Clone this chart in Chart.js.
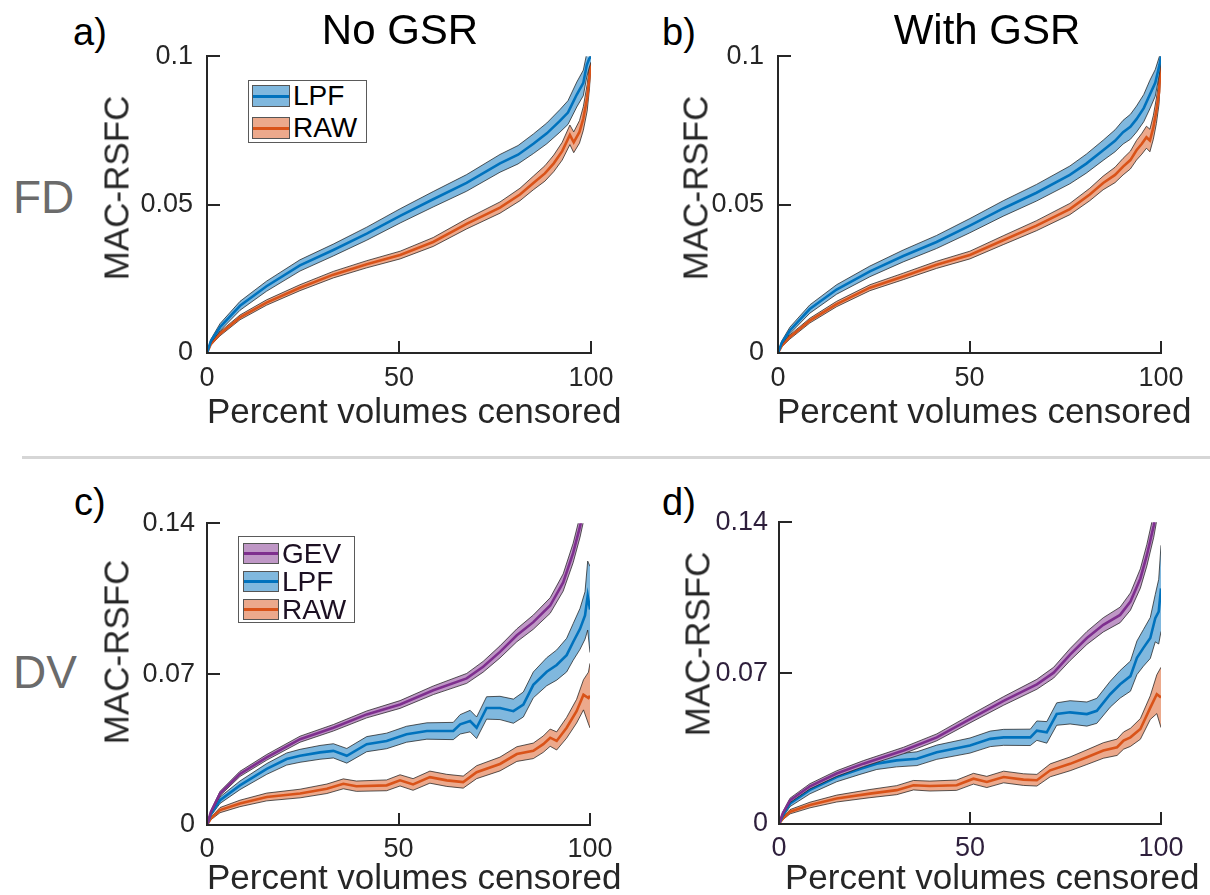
<!DOCTYPE html>
<html>
<head>
<meta charset="utf-8">
<script src="https://cdn.jsdelivr.net/npm/chart.js@4.4.1/dist/chart.umd.min.js"></script>
<style>
  html, body { margin: 0; padding: 0; background: #fff; }
  body { width: 1210px; height: 895px; position: relative; overflow: hidden; font-family: "Liberation Sans", Arial, sans-serif; }
  .txt { position: absolute; white-space: nowrap; line-height: 1; }
  .holder { position: absolute; }
  .legend { position: absolute; border: 1px solid #5a5a5a; background: #fff; box-sizing: border-box; }
  .legend .row { position: absolute; }
  .legend .sw { position: absolute; box-sizing: border-box; border: 1px solid #555; }
  .legend .sw i { position: absolute; left: 0; right: 0; top: 50%; height: 3px; margin-top: -1.5px; }
  .legend .lab { position: absolute; font-size: 28px; line-height: 1; white-space: nowrap; }
  .sep { position: absolute; left: 22px; top: 456px; width: 1188px; height: 3px; background: #d6d6d6; }
</style>
</head>
<body>
<div class="sep"></div>
<script>
// ---- axis ticks ----
const xTicks = [0, 50, 100];
const xTickLabels = ['0', '50', '100'];
const yTicksFD = [0, 0.05, 0.1];
const yTickLabelsFD = ['0', '0.05', '0.1'];
const yTicksDV = [0, 0.07, 0.14];
const yTickLabelsDV = ['0', '0.07', '0.14'];

// ---- series colours ----
const seriesNames = { GEV: 'GEV', LPF: 'LPF', RAW: 'RAW' };
const lineColor = { GEV: '#7E2F8E', LPF: '#0072BD', RAW: '#D95319' };
const bandColor = { GEV: 'rgb(191,151,198)', LPF: 'rgb(128,184,222)', RAW: 'rgb(236,169,140)' };

// ---- a) FD, no GSR ----
const aLpfPct  = [0, 1, 3.4, 8.6, 15.5, 24.2, 32.9, 41.6, 50.3, 58.9, 67.6, 76.3, 81, 85, 88.5, 91.9, 94, 96.3, 98, 98.9, 99.5, 100];
const aLpfMean = [0, 0.004, 0.0087, 0.0159, 0.0225, 0.0295, 0.0347, 0.0402, 0.0462, 0.0518, 0.0573, 0.0639, 0.0668, 0.0705, 0.074, 0.0782, 0.081, 0.0871, 0.091, 0.097, 0.099, 0.1];
const aLpfHalf = [0, 0.0006, 0.0012, 0.0015, 0.0017, 0.0019, 0.002, 0.0022, 0.0024, 0.0026, 0.0028, 0.003, 0.0031, 0.0033, 0.0035, 0.0038, 0.004, 0.0042, 0.0043, 0.004, 0.003, 0.002];
const aRawPct  = [0, 1, 3.4, 8.6, 15.5, 24.2, 32.9, 41.6, 50.3, 58.9, 67.6, 76.3, 81.5, 85, 88, 90.3, 92.5, 94.5, 95.5, 97, 98, 99, 99.6, 100];
const aRawMean = [0, 0.003, 0.0065, 0.012, 0.017, 0.022, 0.0264, 0.0299, 0.033, 0.0374, 0.0435, 0.049, 0.0534, 0.0573, 0.0605, 0.0639, 0.068, 0.0735, 0.071, 0.0745, 0.079, 0.086, 0.093, 0.1];
const aRawHalf = [0, 0.0004, 0.0007, 0.0008, 0.0009, 0.001, 0.0011, 0.0012, 0.0013, 0.0015, 0.0017, 0.0019, 0.0021, 0.0023, 0.0026, 0.0028, 0.003, 0.0033, 0.0035, 0.0038, 0.004, 0.0045, 0.004, 0.003];

// ---- b) FD, with GSR ----
const bLpfPct  = [0, 1, 3.1, 8.3, 15.3, 24, 32.7, 41.4, 50.1, 58.8, 67.5, 76.2, 80.5, 84.9, 88, 90.1, 92, 93.6, 95.5, 97.1, 98.5, 99.6, 100];
const bLpfMean = [0, 0.0035, 0.0076, 0.0148, 0.0214, 0.0275, 0.0327, 0.0374, 0.0429, 0.0487, 0.054, 0.06, 0.0638, 0.0683, 0.0715, 0.0744, 0.0762, 0.0788, 0.0825, 0.0871, 0.091, 0.097, 0.1];
const bLpfHalf = [0, 0.0006, 0.0011, 0.0014, 0.0016, 0.0018, 0.002, 0.0022, 0.0024, 0.0026, 0.0028, 0.003, 0.0032, 0.0034, 0.0037, 0.004, 0.0042, 0.0044, 0.0046, 0.0048, 0.0045, 0.003, 0.002];
const bRawPct  = [0, 1, 3.1, 8.3, 15.3, 24, 32.7, 41.4, 50.1, 58.8, 67.5, 76.2, 81.4, 84.9, 88, 90.1, 92, 93.6, 95, 96.2, 97.1, 98, 98.8, 99.5, 100];
const bRawMean = [0, 0.0025, 0.0054, 0.0109, 0.0165, 0.022, 0.0258, 0.0297, 0.033, 0.038, 0.0429, 0.0485, 0.0534, 0.0573, 0.06, 0.0628, 0.065, 0.0683, 0.0705, 0.0727, 0.0716, 0.076, 0.0816, 0.088, 0.1];
const bRawHalf = [0, 0.0004, 0.0007, 0.0008, 0.0009, 0.001, 0.0011, 0.0012, 0.0013, 0.0015, 0.0017, 0.0019, 0.0021, 0.0023, 0.0026, 0.0028, 0.003, 0.0033, 0.0035, 0.0037, 0.0038, 0.004, 0.0043, 0.004, 0.003];

// ---- c) DV, no GSR ----
const cGevPct  = [0, 1, 3.4, 8.6, 15.6, 24.3, 33, 41.7, 50.4, 59.1, 67.8, 72.1, 76.5, 80.9, 85.2, 89.6, 93, 95.6, 97.4, 98.5, 99.5];
const cGevMean = [0, 0.006, 0.0146, 0.0237, 0.0314, 0.0398, 0.0451, 0.0513, 0.0559, 0.0625, 0.068, 0.0734, 0.0803, 0.088, 0.0941, 0.1018, 0.1125, 0.1262, 0.1385, 0.148, 0.16];
const cGevHalf = [0, 0.0006, 0.001, 0.0012, 0.0013, 0.0014, 0.0015, 0.0016, 0.0018, 0.002, 0.0023, 0.0025, 0.0028, 0.003, 0.0033, 0.0036, 0.004, 0.0045, 0.005, 0.0055, 0.006];
const cLpfPct  = [0, 1, 3.4, 8.6, 15.6, 20.8, 24.3, 29.5, 33, 36.5, 41.7, 46.9, 52.1, 57.4, 64.3, 66.1, 68.7, 70.4, 73, 76.5, 80, 82.6, 85.2, 88.7, 91.3, 93.9, 95.6, 97.4, 98.7, 99.4, 100];
const cLpfMean = [0, 0.005, 0.0115, 0.0184, 0.026, 0.0306, 0.0321, 0.0337, 0.0344, 0.0321, 0.0375, 0.039, 0.0421, 0.0436, 0.0436, 0.0467, 0.0482, 0.0451, 0.0543, 0.0543, 0.0528, 0.0559, 0.065, 0.0711, 0.0742, 0.0788, 0.0849, 0.091, 0.0972, 0.1064, 0.1];
const cLpfHalf = [0, 0.0008, 0.0015, 0.002, 0.0025, 0.0028, 0.003, 0.0032, 0.0033, 0.0034, 0.0035, 0.0036, 0.0037, 0.0038, 0.004, 0.0045, 0.005, 0.005, 0.0052, 0.0054, 0.0056, 0.0058, 0.006, 0.0065, 0.007, 0.0078, 0.0085, 0.0095, 0.011, 0.016, 0.02];
const cRawPct  = [0, 1, 3.4, 8.6, 15.6, 24.3, 31.3, 35.6, 39, 46.9, 50.4, 53.8, 58.2, 62.6, 66.9, 70.4, 76.5, 80.9, 85.2, 87.8, 89.6, 91.3, 93.9, 96.5, 98.3, 99.6, 100];
const cRawMean = [0, 0.003, 0.0069, 0.01, 0.013, 0.0146, 0.0168, 0.0191, 0.018, 0.0184, 0.0207, 0.0188, 0.0222, 0.0207, 0.0199, 0.0245, 0.0283, 0.0329, 0.0344, 0.0375, 0.0405, 0.039, 0.0451, 0.0528, 0.0604, 0.0589, 0.06];
const cRawHalf = [0, 0.0006, 0.0012, 0.0015, 0.0018, 0.002, 0.0022, 0.0023, 0.0024, 0.0025, 0.0026, 0.0027, 0.0028, 0.0028, 0.0028, 0.003, 0.0032, 0.0034, 0.0036, 0.0038, 0.004, 0.0042, 0.0048, 0.0055, 0.007, 0.012, 0.015];

// ---- d) DV, with GSR ----
const dGevPct  = [0, 1, 2.9, 8.1, 15.1, 22.1, 32.6, 41.3, 50, 58.8, 67.5, 71.9, 76.2, 80.6, 84.9, 89.3, 92, 94.6, 96.3, 98.1, 99, 100];
const dGevMean = [0, 0.005, 0.011, 0.0175, 0.0234, 0.028, 0.0341, 0.0402, 0.0487, 0.0571, 0.0648, 0.0702, 0.0786, 0.0863, 0.0924, 0.097, 0.1032, 0.1139, 0.1247, 0.1385, 0.148, 0.16];
const dGevHalf = [0, 0.0006, 0.001, 0.0012, 0.0013, 0.0014, 0.0015, 0.0016, 0.0018, 0.002, 0.0023, 0.0025, 0.0028, 0.003, 0.0033, 0.0036, 0.004, 0.0045, 0.005, 0.0055, 0.006, 0.006];
const dLpfPct  = [0, 1, 2.9, 8.1, 15.1, 21.2, 25.6, 30.8, 36.1, 41.3, 50, 55.3, 58.8, 65.8, 67.5, 70.1, 72.7, 76.2, 80.6, 83.2, 86.7, 89.3, 92, 93.7, 95.4, 97.2, 98.5, 99.4, 100];
const dLpfMean = [0, 0.004, 0.0095, 0.0158, 0.0218, 0.0255, 0.028, 0.0295, 0.0303, 0.0333, 0.0364, 0.0395, 0.0402, 0.0402, 0.0433, 0.0425, 0.051, 0.0518, 0.051, 0.0525, 0.0602, 0.0648, 0.0686, 0.0771, 0.0817, 0.0863, 0.0955, 0.0985, 0.1093];
const dLpfHalf = [0, 0.0008, 0.0014, 0.0018, 0.0022, 0.0025, 0.0027, 0.003, 0.0032, 0.0033, 0.0035, 0.0036, 0.0037, 0.0038, 0.0045, 0.005, 0.0052, 0.0054, 0.0056, 0.0058, 0.006, 0.0064, 0.007, 0.0078, 0.0085, 0.0095, 0.011, 0.015, 0.02];
const dRawPct  = [0, 1, 2.9, 8.1, 15.1, 23.8, 30.8, 35.2, 39.5, 46.5, 50.9, 54.4, 58.8, 64, 67.5, 71, 76.2, 80.6, 84.9, 88.5, 90.2, 92, 94.6, 97.2, 98.9, 100];
const dRawMean = [0, 0.0025, 0.0057, 0.0088, 0.0118, 0.0141, 0.0157, 0.018, 0.0176, 0.018, 0.021, 0.0195, 0.0218, 0.0206, 0.0203, 0.0249, 0.0279, 0.031, 0.0341, 0.0356, 0.0387, 0.0402, 0.0441, 0.054, 0.0602, 0.0587];
const dRawHalf = [0, 0.0005, 0.001, 0.0013, 0.0016, 0.0019, 0.0021, 0.0022, 0.0023, 0.0024, 0.0025, 0.0026, 0.0027, 0.0027, 0.0027, 0.003, 0.0032, 0.0034, 0.0036, 0.0038, 0.004, 0.0042, 0.0048, 0.0055, 0.009, 0.014];

// ---------------------------------------------------------------
const FONT = '"Liberation Sans", Arial, sans-serif';

function addText(str, opts) {
  const el = document.createElement('div');
  el.className = 'txt';
  el.textContent = str;
  el.style.fontSize = opts.size + 'px';
  el.style.color = opts.color || '#000';
  // place by baseline: line-height 1 puts baseline ~0.8465em below the box top
  const top = opts.baseline - 0.8465 * opts.size;
  el.style.top = top + 'px';
  if (opts.center !== undefined) {
    el.style.left = opts.center + 'px';
    el.style.transform = 'translateX(-50%)';
  } else {
    el.style.left = opts.left + 'px';
  }
  document.body.appendChild(el);
  return el;
}

function addVText(str, opts) {
  // rotated axis title; cx/cy is the centre of the text box
  const el = document.createElement('div');
  el.className = 'txt';
  el.textContent = str;
  el.style.fontSize = opts.size + 'px';
  el.style.color = opts.color || '#262626';
  el.style.left = opts.cx + 'px';
  el.style.top = opts.cy + 'px';
  el.style.transform = 'translate(-50%, -50%) rotate(-90deg)';
  document.body.appendChild(el);
}

function addLegend(box, names) {
  const lg = document.createElement('div');
  lg.className = 'legend';
  lg.style.left = box.left + 'px';
  lg.style.top = box.top + 'px';
  lg.style.width = box.width + 'px';
  lg.style.height = box.height + 'px';
  names.forEach((key, i) => {
    const sw = document.createElement('div');
    sw.className = 'sw';
    sw.style.left = box.swLeft + 'px';
    sw.style.top = (box.firstTop + i * box.step) + 'px';
    sw.style.width = box.swW + 'px';
    sw.style.height = box.swH + 'px';
    sw.style.background = bandColor[key];
    const ln = document.createElement('i');
    ln.style.background = lineColor[key];
    sw.appendChild(ln);
    lg.appendChild(sw);
    const lab = document.createElement('div');
    lab.className = 'lab';
    lab.textContent = seriesNames[key];
    lab.style.color = box.textColor;
    lab.style.left = box.textLeft + 'px';
    lab.style.top = (box.firstTop + i * box.step + box.swH / 2 - 14) + 'px';
    lg.appendChild(lab);
  });
  document.body.appendChild(lg);
}

function bandSets(key, pct, mean, half, order) {
  const upper = pct.map((x, i) => ({ x, y: mean[i] + half[i] }));
  const lower = pct.map((x, i) => ({ x, y: mean[i] - half[i] }));
  const mid = pct.map((x, i) => ({ x, y: mean[i] }));
  const edge = 'rgba(25,25,25,0.8)';
  return [
    { label: key + ' upper', data: upper, borderColor: edge, borderWidth: 0.9, backgroundColor: bandColor[key], fill: '+1', pointRadius: 0, tension: 0, order: order + 2 },
    { label: key + ' lower', data: lower, borderColor: edge, borderWidth: 0.9, fill: false, pointRadius: 0, tension: 0, order: order + 1 },
    { label: key, data: mid, borderColor: lineColor[key], borderWidth: 2.6, fill: false, pointRadius: 0, tension: 0, order: order }
  ];
}

// inward tick marks, MATLAB style
const inwardTicks = {
  id: 'inwardTicks',
  afterDatasetsDraw(chart, args, opts) {
    const { ctx, chartArea: ca } = chart;
    const xs = chart.scales.x, ys = chart.scales.y;
    ctx.save();
    ctx.strokeStyle = opts.color;
    ctx.lineWidth = 2;
    ctx.beginPath();
    xs.ticks.forEach(t => {
      const px = Math.round(xs.getPixelForValue(t.value));
      ctx.moveTo(px, ca.bottom);
      ctx.lineTo(px, ca.bottom - 12);
    });
    ys.ticks.forEach(t => {
      const py = Math.round(ys.getPixelForValue(t.value));
      ctx.moveTo(ca.left, py);
      ctx.lineTo(ca.left + 13, py);
    });
    ctx.stroke();
    ctx.restore();
  }
};

function makePanel(p) {
  const padL = 75, padT = 25, padR = 40, padB = 50;
  const holder = document.createElement('div');
  holder.className = 'holder';
  const w = p.R - p.L + padL + padR;
  const h = p.B - p.T + padT + padB;
  holder.style.left = (p.L - padL) + 'px';
  holder.style.top = (p.T - padT) + 'px';
  holder.style.width = w + 'px';
  holder.style.height = h + 'px';
  const cv = document.createElement('canvas');
  holder.appendChild(cv);
  document.body.appendChild(holder);

  new Chart(cv, {
    type: 'line',
    data: { datasets: p.datasets },
    options: {
      responsive: true,
      maintainAspectRatio: false,
      animation: false,
      events: [],
      layout: { padding: { left: 0, top: padT, right: padR, bottom: 0 } },
      plugins: { legend: { display: false }, tooltip: { enabled: false }, inwardTicks: { color: '#262626' } },
      scales: {
        x: {
          type: 'linear', min: 0, max: 100,
          afterBuildTicks: s => { s.ticks = xTicks.map(v => ({ value: v })); },
          afterFit: s => { s.height = padB; },
          grid: { display: false, drawTicks: false },
          border: { display: true, width: 2, color: '#262626' },
          ticks: { padding: p.xPad, color: p.tickColor, font: { family: FONT, size: 27 }, maxRotation: 0,
                   callback: (v, i) => xTickLabels[i] }
        },
        y: {
          type: 'linear', min: 0, max: p.yTicks[p.yTicks.length - 1],
          afterBuildTicks: s => { s.ticks = p.yTicks.map(v => ({ value: v })); },
          afterFit: s => { s.width = padL; },
          grid: { display: false, drawTicks: false },
          border: { display: true, width: 2, color: '#262626' },
          ticks: { padding: p.yPad, color: p.tickColor, font: { family: FONT, size: 27 },
                   callback: (v, i) => p.yTickLabels[i] }
        }
      }
    },
    plugins: [inwardTicks]
  });
}

// ---- panels ----
makePanel({ L: 207, T: 51, R: 591, B: 353, yTicks: yTicksFD, yTickLabels: yTickLabelsFD, tickColor: '#262626', xPad: 9, yPad: 14,
  datasets: [...bandSets('LPF', aLpfPct, aLpfMean, aLpfHalf, 10), ...bandSets('RAW', aRawPct, aRawMean, aRawHalf, 20)] });
makePanel({ L: 778, T: 51, R: 1161, B: 353, yTicks: yTicksFD, yTickLabels: yTickLabelsFD, tickColor: '#262626', xPad: 9, yPad: 14,
  datasets: [...bandSets('LPF', bLpfPct, bLpfMean, bLpfHalf, 10), ...bandSets('RAW', bRawPct, bRawMean, bRawHalf, 20)] });
makePanel({ L: 207, T: 520, R: 590, B: 825, yTicks: yTicksDV, yTickLabels: yTickLabelsDV, tickColor: '#262626', xPad: 8, yPad: 12,
  datasets: [...bandSets('GEV', cGevPct, cGevMean, cGevHalf, 0), ...bandSets('LPF', cLpfPct, cLpfMean, cLpfHalf, 10), ...bandSets('RAW', cRawPct, cRawMean, cRawHalf, 20)] });
makePanel({ L: 779, T: 520, R: 1161, B: 824, yTicks: yTicksDV, yTickLabels: yTickLabelsDV, tickColor: '#2e1f3c', xPad: 8, yPad: 11,
  datasets: [...bandSets('GEV', dGevPct, dGevMean, dGevHalf, 0), ...bandSets('LPF', dLpfPct, dLpfMean, dLpfHalf, 10), ...bandSets('RAW', dRawPct, dRawMean, dRawHalf, 20)] });

// ---- legends ----
addLegend({ left: 248, top: 80, width: 119, height: 63, swLeft: 3, swW: 38, swH: 22, firstTop: 4, step: 32, textLeft: 44, textColor: '#000' }, ['LPF', 'RAW']);
addLegend({ left: 238, top: 536, width: 117, height: 87, swLeft: 4, swW: 36, swH: 21, firstTop: 6, step: 28, textLeft: 43, textColor: '#1c0f22' }, ['GEV', 'LPF', 'RAW']);

// ---- headings and labels ----
addText('a)', { size: 38, left: 73, baseline: 45 });
addText('b)', { size: 38, left: 662, baseline: 45 });
addText('c)', { size: 38, left: 74, baseline: 515 });
addText('d)', { size: 38, left: 662, baseline: 515 });
addText('No GSR', { size: 42, center: 400, baseline: 45 });
addText('With GSR', { size: 42, center: 987, baseline: 45 });
addText('FD', { size: 46, left: 13, baseline: 213, color: '#6b6b6b' });
addText('DV', { size: 46, left: 13, baseline: 688, color: '#6b6b6b' });

addVText('MAC-RSFC', { size: 35, cx: 116, cy: 188 });
addVText('MAC-RSFC', { size: 35, cx: 695, cy: 188 });
addVText('MAC-RSFC', { size: 35, cx: 116, cy: 652 });
addVText('MAC-RSFC', { size: 35, cx: 697, cy: 644 });

addText('Percent volumes censored', { size: 35, left: 207, baseline: 423, color: '#262626' });
addText('Percent volumes censored', { size: 35, left: 777, baseline: 423, color: '#262626' });
addText('Percent volumes censored', { size: 35, left: 207, baseline: 889, color: '#262626' });
addText('Percent volumes censored', { size: 35, left: 785, baseline: 889, color: '#262626' });
</script>
</body>
</html>
